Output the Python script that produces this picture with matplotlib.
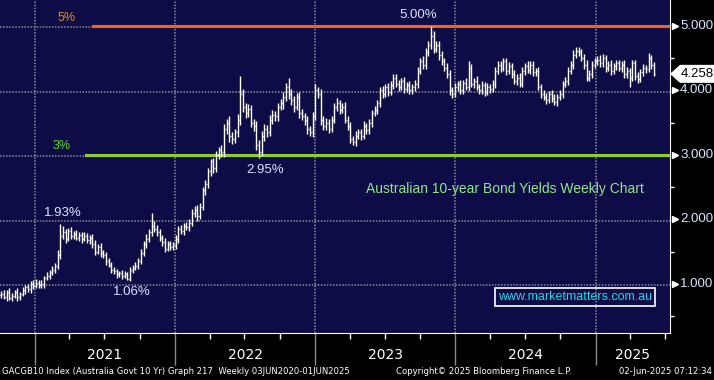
import numpy as np
import pandas as pd
import matplotlib
matplotlib.use("Agg")
import matplotlib.pyplot as plt
import matplotlib.dates as mdates
import matplotlib.transforms as mtrans
from matplotlib.collections import LineCollection
from matplotlib.patches import Polygon
from matplotlib import font_manager

# weekly closes, Australia 10yr govt bond yield
close_2020 = [0.85, 0.80, 0.87, 0.78, 0.82, 0.88, 0.80, 0.84, 0.90, 0.95, 0.92, 1.00, 0.97]
close_2021 = [1.02, 0.98, 1.00, 1.10, 1.13, 1.18, 1.22, 1.28, 1.45, 1.75,
              1.80, 1.70, 1.82, 1.75, 1.78, 1.72, 1.76, 1.70, 1.74, 1.68, 1.72,
              1.62, 1.50, 1.58, 1.48,
              1.45, 1.35, 1.30, 1.22, 1.20,
              1.15, 1.17, 1.12, 1.16, 1.08,
              1.22, 1.25, 1.28, 1.35,
              1.48, 1.62, 1.70, 1.80, 1.90,
              1.85, 1.80, 1.72, 1.65,
              1.55, 1.62, 1.58, 1.60]
close_2022 = [1.70, 1.85, 1.82, 1.90, 1.88,
              1.95, 2.10, 2.15, 2.05, 2.20,
              2.45, 2.55,
              2.75, 2.90, 2.80,
              3.00, 3.08, 3.05,
              3.40, 3.50, 3.30,
              3.25, 3.35, 3.55,
              3.95,
              3.75, 3.65, 3.72,
              3.50, 3.45,
              3.15, 3.05,
              3.30, 3.40, 3.35,
              3.55, 3.62, 3.60,
              3.75, 3.80, 3.90, 4.05, 3.95,
              3.85, 3.75, 3.90,
              3.65, 3.60, 3.55,
              3.40, 3.35,
              3.60]
close_2023 = [4.00, 3.95,
              3.55, 3.45,
              3.50, 3.40, 3.55,
              3.75, 3.80, 3.70, 3.75,
              3.55, 3.45,
              3.25, 3.20, 3.30,
              3.35, 3.30, 3.45, 3.38, 3.50,
              3.65, 3.70, 3.80,
              4.00, 3.95, 4.05, 3.98, 4.08,
              4.20, 4.10, 4.05, 4.15, 4.02,
              4.08, 4.00, 4.05, 4.10,
              4.30, 4.45, 4.40,
              4.60, 4.70, 4.85,
              4.65, 4.70,
              4.55, 4.45,
              4.35, 4.25,
              4.00, 3.95]
close_2024 = [4.05,
              4.10, 4.00, 4.12, 4.05,
              4.35,
              4.10, 4.15, 4.05, 4.00, 4.08, 3.98,
              4.05, 4.02, 4.10,
              4.30, 4.40, 4.35,
              4.45, 4.30, 4.38,
              4.25, 4.15, 4.20, 4.10,
              4.30, 4.38, 4.32, 4.40, 4.28, 4.30,
              4.05, 3.95,
              3.90, 3.85, 3.95, 3.88, 3.82,
              3.90, 3.95,
              4.10, 4.15,
              4.30, 4.40,
              4.55, 4.62, 4.60,
              4.50, 4.40,
              4.20, 4.25,
              4.40]
close_2025 = [4.45, 4.48, 4.42, 4.50,
              4.35, 4.40, 4.30, 4.38, 4.42,
              4.35, 4.40,
              4.25, 4.30, 4.20,
              4.42,
              4.22, 4.18, 4.28,
              4.35, 4.33,
              4.50, 4.40, 4.258]

# how far each week's high / low reached beyond its open-close body
wick_up = [0.04, 0.05, 0.03, 0.06, 0.04, 0.03, 0.05, 0.04, 0.06, 0.03, 0.05, 0.04, 0.06,
           0.05, 0.04, 0.06, 0.03, 0.05, 0.04, 0.06, 0.05, 0.08, 0.18,
           0.10, 0.06, 0.05, 0.07, 0.04, 0.06, 0.05, 0.04, 0.06, 0.05, 0.04,
           0.05, 0.06, 0.04, 0.05, 0.04, 0.05, 0.06, 0.04, 0.05,
           0.04, 0.03, 0.05, 0.04, 0.03, 0.05, 0.04, 0.06, 0.05,
           0.06, 0.05, 0.08, 0.06, 0.20, 0.08, 0.06, 0.05, 0.04,
           0.06, 0.05, 0.04, 0.05,
           0.06, 0.05, 0.07, 0.05, 0.06, 0.05, 0.07, 0.06, 0.08, 0.06,
           0.05, 0.06, 0.05, 0.04, 0.06, 0.06, 0.05, 0.07,
           0.08, 0.06, 0.10, 0.06, 0.05, 0.08, 0.27, 0.08, 0.06, 0.07,
           0.05, 0.06, 0.07, 0.08, 0.07, 0.08, 0.06, 0.07, 0.08, 0.06,
           0.06, 0.07, 0.08, 0.06, 0.15, 0.08, 0.07, 0.06,
           0.08, 0.06, 0.05, 0.06, 0.05, 0.06,
           0.10, 0.06, 0.08, 0.06, 0.07, 0.06, 0.05,
           0.06, 0.08, 0.05, 0.06, 0.07, 0.05, 0.06, 0.05, 0.07,
           0.05, 0.06, 0.07, 0.05, 0.06, 0.05, 0.06, 0.05,
           0.06, 0.07, 0.05, 0.06, 0.07, 0.06, 0.05, 0.07, 0.05, 0.06,
           0.05, 0.06, 0.05, 0.06, 0.07, 0.06, 0.08, 0.06, 0.07, 0.15,
           0.08, 0.06, 0.07, 0.06, 0.05, 0.07, 0.06, 0.05,
           0.06, 0.05, 0.06, 0.05, 0.07, 0.10,
           0.06, 0.05, 0.07, 0.05, 0.06, 0.05, 0.06, 0.05, 0.06,
           0.07, 0.06, 0.05, 0.06, 0.05, 0.06, 0.05, 0.06, 0.05, 0.07,
           0.06, 0.05, 0.07, 0.05, 0.06, 0.05, 0.06, 0.05,
           0.05, 0.06, 0.04, 0.05, 0.06, 0.05, 0.06, 0.05, 0.06,
           0.07, 0.06, 0.08, 0.05, 0.06, 0.05, 0.06, 0.07, 0.06, 0.05,
           0.06, 0.05, 0.07, 0.06, 0.05, 0.06, 0.07, 0.05, 0.06,
           0.05, 0.06, 0.07, 0.06, 0.05, 0.06, 0.05, 0.06, 0.05, 0.06,
           0.05, 0.08, 0.05, 0.04]
wick_dn = [0.05, 0.04, 0.06, 0.03, 0.05, 0.04, 0.06, 0.05, 0.03, 0.05, 0.04, 0.06, 0.05,
           0.04, 0.05, 0.04, 0.06, 0.04, 0.05, 0.04, 0.05, 0.04, 0.06,
           0.05, 0.06, 0.04, 0.05, 0.06, 0.04, 0.05, 0.06, 0.04, 0.05, 0.06,
           0.06, 0.05, 0.04, 0.06, 0.05, 0.06, 0.04, 0.05, 0.04,
           0.05, 0.04, 0.05, 0.03, 0.02, 0.04, 0.05, 0.04, 0.05,
           0.04, 0.05, 0.06, 0.05, 0.06, 0.05, 0.06, 0.05, 0.06,
           0.05, 0.04, 0.06, 0.05,
           0.05, 0.06, 0.05, 0.06, 0.05, 0.06, 0.05, 0.06, 0.07, 0.05,
           0.06, 0.07, 0.06, 0.07, 0.08, 0.07, 0.06, 0.08,
           0.08, 0.07, 0.10, 0.08, 0.06, 0.07, 0.08, 0.08, 0.07, 0.06,
           0.07, 0.08, 0.08, 0.10, 0.06, 0.08, 0.07, 0.06, 0.07, 0.08,
           0.07, 0.06, 0.08, 0.07, 0.08, 0.07, 0.08, 0.06,
           0.07, 0.06, 0.08, 0.07, 0.06, 0.07,
           0.06, 0.07, 0.08, 0.06, 0.07, 0.06, 0.05,
           0.06, 0.07, 0.06, 0.05, 0.06, 0.07, 0.06, 0.05, 0.06,
           0.05, 0.06, 0.05, 0.06, 0.05, 0.06, 0.05, 0.06,
           0.05, 0.06, 0.05, 0.06, 0.05, 0.06, 0.05, 0.06, 0.05, 0.06,
           0.05, 0.06, 0.05, 0.06, 0.06, 0.05, 0.07, 0.06, 0.07, 0.06,
           0.07, 0.06, 0.07, 0.06, 0.05, 0.06, 0.07, 0.07,
           0.05, 0.06, 0.05, 0.06, 0.05, 0.06,
           0.05, 0.06, 0.05, 0.06, 0.05, 0.06, 0.05, 0.06, 0.05,
           0.06, 0.05, 0.06, 0.05, 0.06, 0.05, 0.06, 0.05, 0.06, 0.05,
           0.05, 0.06, 0.05, 0.06, 0.05, 0.06, 0.05, 0.06,
           0.05, 0.06, 0.05, 0.06, 0.05, 0.06, 0.05, 0.06, 0.05,
           0.06, 0.05, 0.06, 0.05, 0.06, 0.05, 0.06, 0.05, 0.06, 0.05,
           0.05, 0.06, 0.05, 0.06, 0.06, 0.05, 0.06, 0.05, 0.06,
           0.05, 0.06, 0.05, 0.06, 0.15, 0.06, 0.05, 0.06, 0.05, 0.05,
           0.06, 0.05, 0.06, 0.04]
first_open = 0.83

close = close_2020 + close_2021 + close_2022 + close_2023 + close_2024 + close_2025
weeks = pd.date_range("2020-10-05", periods=len(close), freq="7D")
opens = [first_open] + close[:-1]
highs = [max(o, c) + u for o, c, u in zip(opens, close, wick_up)]
lows = [min(o, c) - d for o, c, d in zip(opens, close, wick_dn)]

years = [2021, 2022, 2023, 2024, 2025]
last_value = 4.258

names = {f.name for f in font_manager.fontManager.ttflist}
narrow = "Liberation Sans Narrow" if "Liberation Sans Narrow" in names else "DejaVu Sans"
plain = "Liberation Sans" if "Liberation Sans" in names else "DejaVu Sans"
foot_size = 6.8 if narrow == "Liberation Sans Narrow" else 6.1

W, H = 714, 380
fig = plt.figure(figsize=(W / 100, H / 100), dpi=100, facecolor="black")
ax = fig.add_axes([0, 47 / H, 670 / W, 333 / H])
ax.set_facecolor("#0e0c46")

# px helpers: axes fraction from reference pixels
def at(px, py):
    return px / 670, 1 - py / 333

x = mdates.date2num(weeks)
segs = []
for xi, o, h, l, c in zip(x, opens, highs, lows, close):
    segs.append([(xi, l), (xi, h)])
    segs.append([(xi - 2.6, o), (xi, o)])
    segs.append([(xi, c), (xi + 2.6, c)])
ax.add_collection(LineCollection(segs, colors="white", linewidths=1.0, zorder=3))

ax.set_xlim(mdates.date2num(pd.Timestamp("2020-10-02")), mdates.date2num(pd.Timestamp("2025-07-14")))
ax.set_ylim(0.24, 5.403)

# grid
for v in [1, 2, 3, 4, 5]:
    ax.axhline(v - 0.02, color="#8c8c96", lw=1.1, ls=(0, (1, 1)), zorder=1)
for y in years:
    ax.axvline(mdates.date2num(pd.Timestamp(f"{y}-01-01")), color="#8c8c96", lw=1.1, ls=(0, (1, 1)), zorder=1)

# level lines
ax.axhline(5.0, xmin=93 / 670, xmax=1, color="#ff5f14", lw=2.2, zorder=2)
ax.axhline(3.0, xmin=86 / 670, xmax=1, color="#8fd11c", lw=2.2, zorder=2)
ax.text(*at(67, 18), "5%", transform=ax.transAxes, color="#e8891a", fontsize=9, family=plain, ha="center", va="center")
ax.text(*at(62, 146), "3%", transform=ax.transAxes, color="#5fdc1f", fontsize=9, family=plain, ha="center", va="center")

lab = "#d9e6ff"
for s, p in [("5.00%", (418, 15)), ("2.95%", (265, 170)), ("1.93%", (63, 213)), ("1.06%", (132, 292))]:
    ax.text(*at(*p), s, transform=ax.transAxes, color=lab, fontsize=9.5, family=plain, ha="center", va="center")
ax.text(*at(505, 189), "Australian 10-year Bond Yields Weekly Chart", transform=ax.transAxes,
        color="#8ee68e", fontsize=10, family=plain, ha="center", va="center")
ax.text(*at(575, 297), "www.marketmatters.com.au", transform=ax.transAxes, color="#1fd6ea",
        fontsize=9, family=plain, ha="center", va="center",
        bbox=dict(boxstyle="square,pad=0.25", fc="none", ec="white", lw=1.2))

# spines / ticks
for s in ["top", "left"]:
    ax.spines[s].set_visible(False)
ax.spines["right"].set_color("white")
ax.spines["bottom"].set_color("white")
ax.yaxis.tick_right()
ax.set_yticks([0.5, 1.5, 2.5, 3.5, 4.5])
ax.set_yticklabels([])
ax.tick_params(axis="y", colors="white", length=3, width=1)
ax.xaxis.set_major_locator(mdates.YearLocator())
ax.xaxis.set_minor_locator(mdates.MonthLocator(bymonth=[4, 7, 10]))
ax.xaxis.set_major_formatter(plt.NullFormatter())
ax.tick_params(axis="x", which="major", length=23, color="#8a8a8a", width=1)
ax.tick_params(axis="x", which="minor", length=4, color="white", width=1)

# right-hand value labels
ytr = mtrans.blended_transform_factory(ax.transAxes, ax.transData)
for v in [1, 2, 3, 4, 5]:
    ax.plot([1.007], [v], marker=">", color="white", ms=5, transform=ytr, clip_on=False)
    ax.text(1.015, v, f"{v:.3f}", transform=ytr, color=lab, fontsize=9.5, family=plain, va="center", ha="left")

fy = fig.transFigure.inverted().transform(ax.transData.transform((0, last_value)))[1]
hh = 9 / H
poly = Polygon([(670 / W, fy), (680 / W, fy + hh), (714 / W, fy + hh), (714 / W, fy - hh), (680 / W, fy - hh)],
               closed=True, transform=fig.transFigure, fc="white", ec="none")
fig.patches.append(poly)
fig.text(697 / W, fy, f"{last_value:.3f}", color="black", fontsize=9.5, family=plain, ha="center", va="center")

# year labels under the axis
xtr = mtrans.blended_transform_factory(ax.transData, fig.transFigure)
edges = [mdates.date2num(pd.Timestamp(f"{y}-01-01")) for y in years] + [ax.get_xlim()[1]]
for i, y in enumerate(years):
    fig.text((edges[i] + edges[i + 1]) / 2, 25 / H, str(y), transform=xtr, color="white",
             fontsize=10, family=narrow, ha="center", va="center")

fig.text(2 / W, 9 / H, "GACGB10 Index (Australia Govt 10 Yr) Graph 217  Weekly 03JUN2020-01JUN2025",
         color="white", fontsize=foot_size, family=narrow, ha="left", va="center")
fig.text(484 / W, 9 / H, "Copyright\u00a9 2025 Bloomberg Finance L.P.", color="white", fontsize=foot_size,
         family=narrow, ha="center", va="center")
fig.text(712 / W, 9 / H, "02-Jun-2025 07:12:34", color="white", fontsize=foot_size, family=narrow,
         ha="right", va="center")

fig.savefig("out.png", dpi=100, facecolor="black")
